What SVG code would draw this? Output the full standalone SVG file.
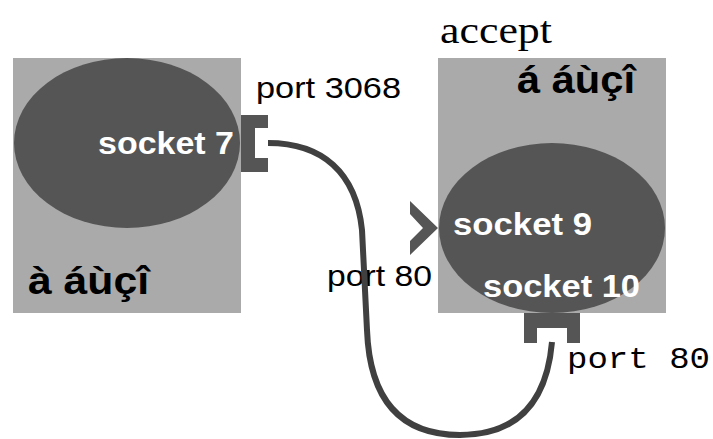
<svg xmlns="http://www.w3.org/2000/svg" width="713" height="439" viewBox="0 0 713 439">
  <style>
    .box { fill: #aaaaaa; }
    .sock { fill: #555555; }
    .port { fill: #555555; }
    .wire { fill: none; stroke: #404040; stroke-width: 6; stroke-linecap: butt; }
    .lbl { font-family: "Liberation Sans", Arial, sans-serif; font-weight: bold; }
    .sockText { fill: #ffffff; font-size: 31px; }
    .hostText { fill: #000000; font-size: 39px; }
    .portText { font-family: "Liberation Sans", Arial, sans-serif; font-size: 29px; fill: #000000; }
    .mono { font-family: "Liberation Mono", "Courier New", monospace; font-size: 29px; fill: #000000; }
    .serif { font-family: "Liberation Serif", "Times New Roman", serif; font-size: 37px; fill: #000000; }
  </style>

  <!-- client host -->
  <g id="client">
    <rect class="box" x="13" y="58" width="228" height="255"/>
    <ellipse class="sock" cx="127" cy="143" rx="113" ry="85"/>
    <text class="lbl sockText" x="98" y="154" textLength="136" lengthAdjust="spacingAndGlyphs">socket 7</text>
    <text class="lbl hostText" x="28" y="294" textLength="121" lengthAdjust="spacingAndGlyphs">à áùçî</text>
  </g>

  <!-- client port (bracket opening right) -->
  <g id="port3068">
    <path class="port" d="M241,115 H268 V128 H255 V158 H268 V172 H241 Z"/>
    <text class="portText" x="256" y="98" textLength="145" lengthAdjust="spacingAndGlyphs">port 3068</text>
  </g>

  <!-- server host -->
  <g id="server">
    <text class="serif" x="440" y="43" textLength="112" lengthAdjust="spacingAndGlyphs">accept</text>
    <rect class="box" x="438" y="58" width="228" height="255"/>
    <text class="lbl hostText" x="517" y="93" textLength="118" lengthAdjust="spacingAndGlyphs">á áùçî</text>
    <ellipse class="sock" cx="552" cy="228" rx="113" ry="85"/>
    <text class="lbl sockText" x="453" y="235" textLength="139" lengthAdjust="spacingAndGlyphs">socket 9</text>
    <text class="lbl sockText" x="483" y="297" textLength="157" lengthAdjust="spacingAndGlyphs">socket 10</text>
  </g>

  <!-- listening port 80 -->
  <g id="listen80">
    <path class="port" d="M410,201 L438,228 L410,255 L410,241 L423,228 L410,214 Z"/>
    <text class="portText" x="327" y="286" textLength="105" lengthAdjust="spacingAndGlyphs">port 80</text>
  </g>

  <!-- accepted connection port -->
  <g id="port80">
    <path class="port" d="M524,313 H580 V343 H567 V328 H537 V343 H524 Z"/>
    <text class="mono" x="567" y="368" textLength="143" lengthAdjust="spacingAndGlyphs">port 80</text>
  </g>

  <!-- connection between the two ports -->
  <g id="connectors">
    <path class="wire" d="M268,143 C322,143 356,172 362,230 L367,330 C370,410 410,435 460,435 C510,435 546,410 552,342"/>
  </g>
</svg>
